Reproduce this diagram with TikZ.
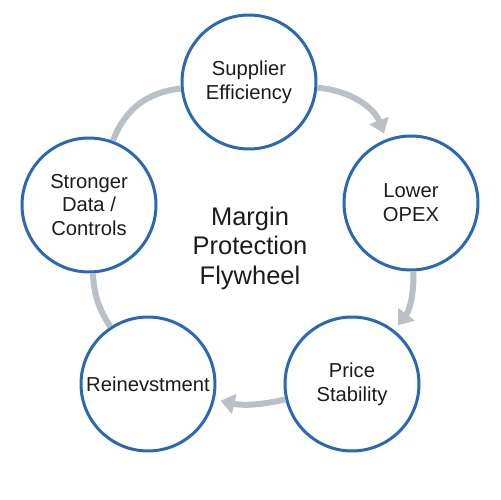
\documentclass[tikz,border=0pt]{standalone}
\usepackage{fontspec}
\setmainfont{Liberation Sans}
\usetikzlibrary{arrows.meta}
\definecolor{ringblue}{HTML}{2A69B0}
\definecolor{flowgray}{HTML}{B9C0C7}
\definecolor{inkgray}{HTML}{1C1C1C}
\tikzset{
  stage/.style = {
    circle, draw=ringblue, line width=0.06cm, fill=white,
    minimum size=2.68cm, inner sep=0pt, align=center,
    text=inkgray, font=\fontsize{11.5}{13.5}\selectfont
  },
  flow/.style = {draw=flowgray, line width=0.12cm},
  tip/.style = {-{Triangle[width=0.4cm,length=0.28cm]}, shorten >=0.12cm}
}

\begin{document}
\begin{tikzpicture}[x=0.02cm,y=0.02cm]
    \useasboundingbox (0,0) rectangle (500,500);
    \node[stage] (sup) at (249,418) {Supplier\\Efficiency};
    \node[stage] (opex) at (411,297) {Lower\\OPEX};
    \node[stage] (price) at (352,116) {Price\\Stability};
    \node[stage] (reinv) at (148,116) {Reinevstment};
    \node[stage] (ctrl) at (89,295) {Stronger\\Data /\\Controls};
    \node[align=center, text=inkgray, font=\fontsize{14.5}{16.8}\selectfont] (title) at (250,252) {Margin\\Protection\\Flywheel};
    \draw[flow,tip] (sup) to[bend left=32] (opex);
    \draw[flow,tip] (opex) to[bend left=20] (price);
    \draw[flow,tip] (price) to[bend left=13] (reinv);
    \draw[flow] (reinv) to[bend left=15] (ctrl);
    \draw[flow] (ctrl) to[bend left=32] (sup);
\end{tikzpicture}
\end{document}
